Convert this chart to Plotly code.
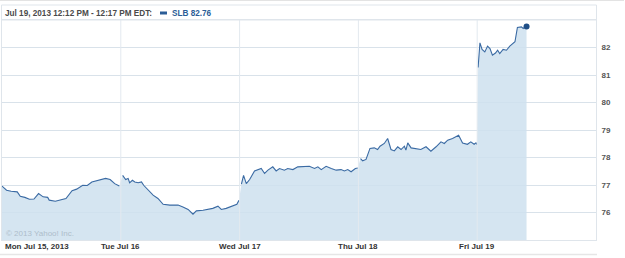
import plotly.graph_objects as go

# ---- data ----
day_labels = ["Mon Jul 15, 2013", "Tue Jul 16", "Wed Jul 17", "Thu Jul 18", "Fri Jul 19"]
minutes_per_day = 390  # 9:30 - 16:00

mon_min = [0, 15, 30, 50, 60, 75, 90, 105, 120, 135, 150, 155, 175, 195, 210, 230, 245, 265, 280, 295, 310, 325, 340, 355, 370, 385]
mon_px = [76.96, 76.81, 76.77, 76.75, 76.59, 76.55, 76.48, 76.49, 76.69, 76.57, 76.55, 76.45, 76.41, 76.47, 76.51, 76.79, 76.85, 76.99, 76.98, 77.11, 77.15, 77.20, 77.24, 77.20, 77.05, 76.96]

tue_min = [6, 16, 24, 29, 38, 46, 57, 68, 75, 89, 106, 122, 139, 161, 188, 204, 221, 237, 248, 270, 286, 302, 319, 330, 346, 368, 381, 388]
tue_px = [77.35, 77.20, 77.24, 77.08, 77.17, 77.11, 77.08, 77.11, 76.99, 76.81, 76.63, 76.51, 76.30, 76.27, 76.27, 76.20, 76.11, 75.94, 76.06, 76.08, 76.11, 76.15, 76.23, 76.11, 76.15, 76.23, 76.30, 76.45]

wed_min = [6, 13, 22, 33, 49, 60, 71, 82, 93, 109, 120, 131, 147, 158, 175, 191, 213, 229, 246, 257, 268, 284, 301, 317, 333, 344, 355, 366, 380, 388]
wed_px = [77.03, 77.35, 77.05, 77.20, 77.51, 77.56, 77.60, 77.42, 77.54, 77.66, 77.51, 77.60, 77.54, 77.60, 77.56, 77.66, 77.68, 77.68, 77.60, 77.66, 77.56, 77.68, 77.60, 77.54, 77.56, 77.51, 77.56, 77.48, 77.60, 77.62]

thu_min = [7, 14, 25, 38, 52, 63, 71, 85, 96, 107, 118, 129, 140, 151, 156, 162, 173, 189, 205, 222, 238, 255, 271, 282, 293, 309, 329, 342, 358, 369, 380, 386, 389]
thu_px = [77.96, 77.88, 77.93, 78.33, 78.35, 78.29, 78.41, 78.51, 78.69, 78.29, 78.24, 78.39, 78.29, 78.41, 78.27, 78.53, 78.35, 78.33, 78.29, 78.39, 78.23, 78.39, 78.57, 78.51, 78.63, 78.69, 78.81, 78.53, 78.48, 78.57, 78.48, 78.53, 78.47]

fri_min = [3, 9, 16, 25, 34, 42, 50, 60, 67, 74, 85, 96, 107, 118, 124, 132, 145, 151, 157, 162]
fri_px = [81.27, 82.17, 81.93, 81.84, 82.05, 81.96, 81.72, 81.80, 81.90, 81.78, 81.93, 81.90, 82.05, 82.17, 82.21, 82.73, 82.75, 82.69, 82.75, 82.76]

y_ticks = [76, 77, 78, 79, 80, 81, 82]
header_text = "Jul 19, 2013 12:12 PM - 12:17 PM EDT:"
symbol = "SLB"
last_price = 82.76
copyright_text = "© 2013 Yahoo! Inc."

# ---- build series ----
xs, ys = [], []          # continuous (for the area)
lx, ly = [], []          # with breaks between sessions (for the line)
for d, (mins, pxs) in enumerate([(mon_min, mon_px), (tue_min, tue_px), (wed_min, wed_px),
                                 (thu_min, thu_px), (fri_min, fri_px)]):
    if d > 0:
        lx.append(None)
        ly.append(None)
    for m, p in zip(mins, pxs):
        xs.append(d + m / minutes_per_day)
        ys.append(p)
        lx.append(d + m / minutes_per_day)
        ly.append(p)

W, H = 625, 258
ML, MR, MT, MB = 2, 29, 20, 18
PW, PH = W - ML - MR, H - MT - MB

def px_x(p):  # pixel -> paper x
    return (p - ML) / PW

def px_y(p):  # pixel -> paper y
    return 1 - (p - MT) / PH

LINE = "#3a6aa3"
FILL = "rgba(206,224,239,0.85)"
GRID = "#d9e2ea"
FRAME = "#dfe5eb"
FONT = "Liberation Sans"

fig = go.Figure()
fig.add_trace(go.Scatter(x=xs, y=ys, mode="lines", fill="tozeroy", fillcolor=FILL,
                         line=dict(width=0, color=FILL), hoverinfo="skip"))
fig.add_trace(go.Scatter(x=lx, y=ly, mode="lines", connectgaps=False,
                         line=dict(color=LINE, width=1.1), hoverinfo="skip"))
fig.add_trace(go.Scatter(x=[xs[-1]], y=[ys[-1]], mode="markers",
                         marker=dict(color="#1f4e86", size=6), hoverinfo="skip"))

shapes = []
# vertical day separators (drawn over the fill)
for d in range(1, len(day_labels)):
    shapes.append(dict(type="line", xref="x", yref="paper", x0=d, x1=d, y0=0, y1=1,
                       line=dict(color="#e3e9ef", width=1), layer="above"))
# header box
shapes.append(dict(type="rect", xref="paper", yref="paper", x0=px_x(1.5), x1=px_x(596.5),
                   y0=px_y(20), y1=px_y(5), line=dict(color=FRAME, width=1), fillcolor="rgba(0,0,0,0)"))
# top rule and bottom rule
shapes.append(dict(type="line", xref="paper", yref="paper", x0=px_x(0), x1=px_x(624),
                   y0=px_y(0.5), y1=px_y(0.5), line=dict(color="#e3e3e3", width=1)))
shapes.append(dict(type="line", xref="paper", yref="paper", x0=px_x(0), x1=px_x(597),
                   y0=px_y(254.5), y1=px_y(254.5), line=dict(color="#e6e6e6", width=1.5)))
# legend swatch
shapes.append(dict(type="rect", xref="paper", yref="paper", x0=px_x(160), x1=px_x(167),
                   y0=px_y(14.5), y1=px_y(11.5), line=dict(width=0), fillcolor="#2b5d97"))

annotations = []
for d, lab in enumerate(day_labels):
    annotations.append(dict(x=d, xref="x", y=px_y(246), yref="paper", text=lab, showarrow=False,
                            xanchor="left" if d == 0 else "center", xshift=1 if d == 0 else 0,
                            yanchor="middle",
                            font=dict(family=FONT, size=8, color="#333333", weight="bold")))
annotations.append(dict(x=px_x(3), xref="paper", y=px_y(13), yref="paper", text=header_text,
                        showarrow=False, xanchor="left", yanchor="middle",
                        font=dict(family=FONT, size=8.2, color="#4a4a4a", weight="bold")))
annotations.append(dict(x=px_x(170), xref="paper", y=px_y(13), yref="paper",
                        text=f"{symbol} {last_price:.2f}", showarrow=False, xanchor="left",
                        yanchor="middle", font=dict(family=FONT, size=8.2, color="#2b5d97", weight="bold")))
annotations.append(dict(x=px_x(4), xref="paper", y=px_y(233), yref="paper", text=copyright_text,
                        showarrow=False, xanchor="left", yanchor="middle",
                        font=dict(family=FONT, size=8, color="#aebdcb")))

fig.update_layout(
    width=W, height=H, margin=dict(l=ML, r=MR, t=MT, b=MB),
    paper_bgcolor="white", plot_bgcolor="white", showlegend=False,
    shapes=shapes, annotations=annotations,
    xaxis=dict(range=[0, len(day_labels)], showgrid=False, zeroline=False, showticklabels=False,
               showline=True, mirror=True, linecolor=FRAME, linewidth=1, fixedrange=True),
    yaxis=dict(range=[75, 83], side="right", tickvals=y_ticks, ticktext=[str(t) for t in y_ticks],
               showgrid=True, gridcolor=GRID, gridwidth=1, zeroline=False,
               showline=True, mirror=True, linecolor=FRAME, linewidth=1,
               ticks="", ticklabelstandoff=3,
               tickfont=dict(family=FONT, size=8, color="#555555", weight="bold"), fixedrange=True),
)

fig.write_html("out.html", config={"displayModeBar": False, "staticPlot": True})
